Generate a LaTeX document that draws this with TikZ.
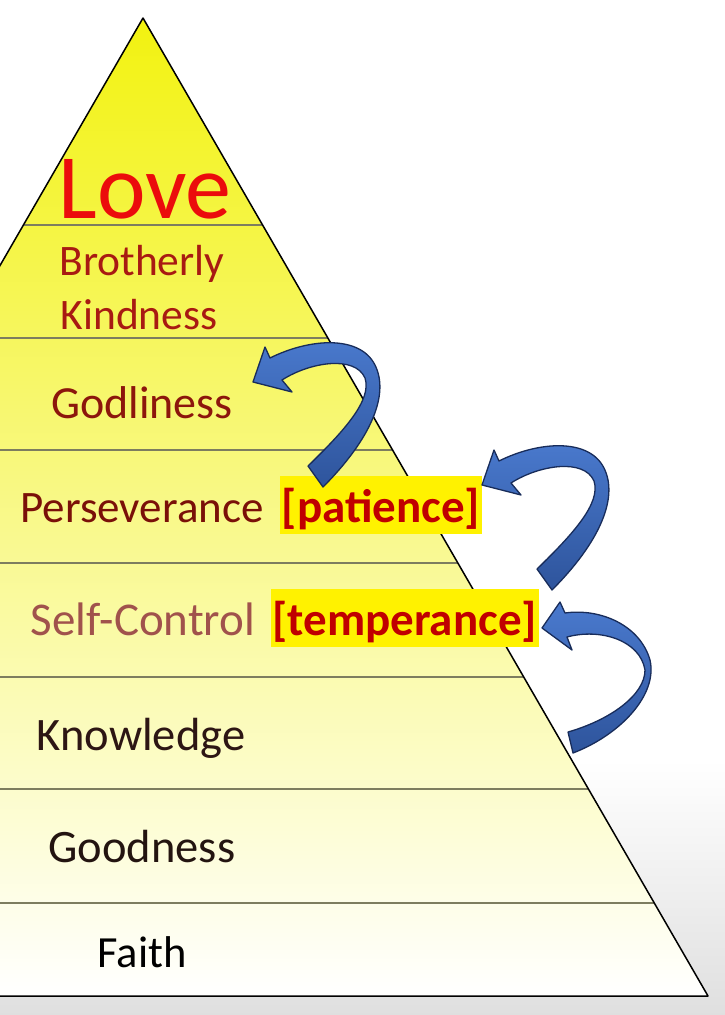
\documentclass[tikz,border=0pt]{standalone}
\usepackage{fontspec}
\setmainfont{Carlito}
\usepackage{xcolor}
\usetikzlibrary{positioning}
\definecolor{lovered}{RGB}{235,12,12}
\definecolor{kindred}{RGB}{168,26,18}
\definecolor{godred}{RGB}{140,22,12}
\definecolor{persred}{RGB}{122,16,8}
\definecolor{selfred}{RGB}{160,82,76}
\definecolor{knowbrown}{RGB}{45,22,20}
\definecolor{goodbrown}{RGB}{35,20,16}
\definecolor{tagred}{RGB}{192,0,0}
\definecolor{pyrtop}{RGB}{242,242,16}
\definecolor{pyrmid}{RGB}{250,250,156}
\definecolor{linegray}{RGB}{125,125,95}
\definecolor{curltop}{RGB}{74,122,206}
\definecolor{curlbot}{RGB}{46,84,156}
\definecolor{curledge}{RGB}{24,44,90}
\tikzset{virtue/.style={anchor=base,inner sep=0pt,font=\fontsize{#1}{#1}\selectfont},
         virtue/.default=45,
         tag/.style={fill=yellow,text=tagred,inner xsep=2pt,inner ysep=5pt,anchor=base west,
                     text height=41pt,text depth=7pt,
                     font=\bfseries\fontsize{47}{47}\selectfont},
         tierline/.style={draw=linegray,line width=1.6pt},
         curl/.style={draw=curledge,line width=1.3pt,line join=round,
                      top color=curltop,bottom color=curlbot}
            }
\begin{document}
\begin{tikzpicture}[x=1pt,y=-1pt]

    \useasboundingbox (0,0) rectangle (725,1015);
    \clip (0,0) rectangle (725,1015);
    \fill[top color=white,bottom color=gray!25] (0,760) rectangle (725,1015);

    \coordinate (apex) at (143,18);
    \coordinate (br) at (708,996);
    \coordinate (bl) at (-422,996);

    % pyramid
    \fill[top color=pyrtop,middle color=pyrmid,bottom color=white] (bl) -- (apex) -- (br) -- cycle;
    \begin{scope}
        \clip (bl) -- (apex) -- (br) -- cycle;
        \foreach \y in {225,338,450,563,677,789,903}
            \draw[tierline] (0,\y) -- (725,\y);
    \end{scope}
    \draw[line width=1.5pt,line join=round] (bl) -- (apex) -- (br) -- cycle;

    \node[virtue=92,text=lovered] (love) at (145,218) {Love};
    \node[virtue=43.5,text=kindred] (brotherly) at (142,275) {Brotherly};
    \node[virtue=43.5,text=kindred] (kindness) at (139,329) {Kindness};
    \node[virtue=46,text=godred] (godliness) at (142,418) {Godliness};
    \node[virtue=45,text=persred] (perseverance) at (142,522) {Perseverance};
    \node[virtue=47,text=selfred] (selfcontrol) at (143,635) {Self-Control};
    \node[virtue=46.5,text=knowbrown] (knowledge) at (141,750) {Knowledge};
    \node[virtue=46.5,text=goodbrown] (goodness) at (142,862) {Goodness};
    \node[virtue=44.5] (faith) at (142,967) {Faith};

    \node[tag] (patience) at ([xshift=16pt]perseverance.base east) {[patience]};
    \node[tag] (temperance) at ([xshift=15pt]selfcontrol.base east) {[temperance]};

    % curled arrows
    \foreach \dx/\dy in {0/0,229/103}
    \path[curl,shift={(\dx,\dy)}] (253,382) -- (265,347) -- (270,358)
        .. controls (310,338) and (360,335) .. (375,365)
        .. controls (390,395) and (370,440) .. (323,487) -- (308,466)
        .. controls (345,430) and (372,400) .. (365,378)
        .. controls (355,355) and (310,362) .. (282,380) -- (292,392) -- cycle;
    \path[curl] (542,628) -- (560,602) -- (565,613)
        .. controls (600,608) and (640,625) .. (650,660)
        .. controls (658,695) and (620,735) .. (573,753) -- (568,732)
        .. controls (610,720) and (645,695) .. (645,670)
        .. controls (640,640) and (600,628) .. (567,637) -- (572,650) -- cycle;

\end{tikzpicture}
\end{document}
